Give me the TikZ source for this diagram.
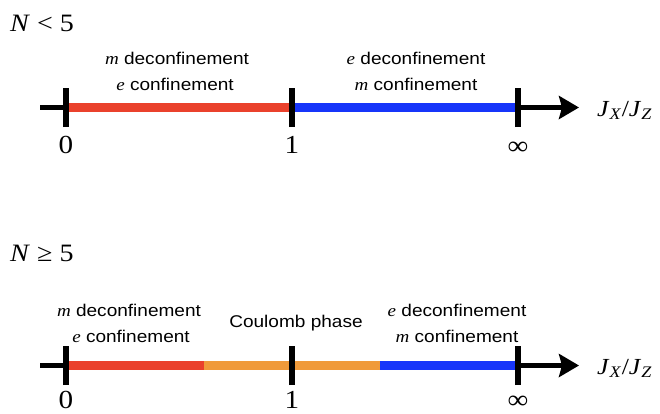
\documentclass[tikz,border=0pt]{standalone}
\usepackage{fontspec}
\usepackage{graphicx}
\setmainfont{Liberation Serif}
\setsansfont{Liberation Sans}
\usetikzlibrary{arrows.meta}
\definecolor{cred}{RGB}{234,65,44}
\definecolor{corange}{RGB}{240,154,58}
\definecolor{cblue}{RGB}{23,53,250}
\newcommand{\hs}[1]{\scalebox{1.12}[1]{#1}}
\newcommand{\mm}{{\rmfamily\itshape m}}
\newcommand{\ee}{{\rmfamily\itshape e}}
\tikzset{
  axisline/.style={line width=5pt, black, -{Stealth[length=20pt,width=23pt,inset=3pt]}},
  seg/.style={line width=9pt},
  tickmark/.style={line width=6pt, black},
  phase/.style={anchor=base, inner sep=0pt, font=\sffamily\fontsize{17}{20}\selectfont},
  num/.style={anchor=base, inner sep=0pt, text depth=0pt, font=\rmfamily\fontsize{26}{30}\selectfont},
  cond/.style={anchor=base west, inner sep=0pt, font=\rmfamily\fontsize{25}{30}\selectfont},
  ratio/.style={anchor=base west, inner sep=0pt, font=\rmfamily\fontsize{23}{28}\selectfont},
}
\begin{document}
\begin{tikzpicture}[x=1pt,y=-1pt]
\useasboundingbox (0,0) rectangle (660,413);
% ---------- top: N < 5 ----------
\coordinate (s1) at (40,107.5);
\coordinate (e1) at (579,107.5);
\coordinate (a0) at (66,107.5);
\coordinate (a1) at (292,107.5);
\coordinate (ai) at (518,107.5);
\draw[axisline] (s1) -- (e1);
\draw[seg,cred] (a0) -- (a1);
\draw[seg,cblue] (a1) -- (ai);
\foreach \p in {a0,a1,ai}
  \draw[tickmark] ([yshift=-19.5pt]\p) -- ([yshift=19.5pt]\p);
\node[cond] (n1) at (10,31) {\hs{\textit{N} < 5}};
\node[phase] (t1a) at (177,64) {\hs{\mm{} deconfinement}};
\node[phase] (t1b) at (175,90) {\hs{\ee{} confinement}};
\node[phase] (t2a) at (416,64) {\hs{\ee{} deconfinement}};
\node[phase] (t2b) at (416,90) {\hs{\mm{} confinement}};
\node[num] (l0) at (66,153) {\hs{0}};
\node[num] (l1) at (292,153) {\hs{1}};
\node[num] (li) at (518,154) {\hs{∞}};
\node[ratio] (r1) at (597,116) {\hs{\textit{J}\textsubscript{\textit{X}}/\textit{J}\textsubscript{\textit{Z}}}};
% ---------- bottom: N >= 5 ----------
\coordinate (s2) at (40,365.5);
\coordinate (e2) at (579,365.5);
\coordinate (b0) at (66,365.5);
\coordinate (b1) at (292,365.5);
\coordinate (bi) at (518,365.5);
\coordinate (bo) at (204,365.5);
\coordinate (bb) at (380,365.5);
\draw[axisline] (s2) -- (e2);
\draw[seg,cred] (b0) -- (bo);
\draw[seg,corange] (bo) -- (bb);
\draw[seg,cblue] (bb) -- (bi);
\foreach \p in {b0,b1,bi}
  \draw[tickmark] ([yshift=-19.5pt]\p) -- ([yshift=19.5pt]\p);
\node[cond] (n2) at (10,261) {\hs{\textit{N} ≥ 5}};
\node[phase] (u1a) at (129,316) {\hs{\mm{} deconfinement}};
\node[phase] (u1b) at (131,342) {\hs{\ee{} confinement}};
\node[phase] (uc) at (296,327) {\hs{Coulomb phase}};
\node[phase] (u2a) at (457,316) {\hs{\ee{} deconfinement}};
\node[phase] (u2b) at (457,342) {\hs{\mm{} confinement}};
\node[num] (m0) at (66,408) {\hs{0}};
\node[num] (m1) at (292,408) {\hs{1}};
\node[num] (mi) at (518,408) {\hs{∞}};
\node[ratio] (r2) at (597,374) {\hs{\textit{J}\textsubscript{\textit{X}}/\textit{J}\textsubscript{\textit{Z}}}};
\end{tikzpicture}
\end{document}
